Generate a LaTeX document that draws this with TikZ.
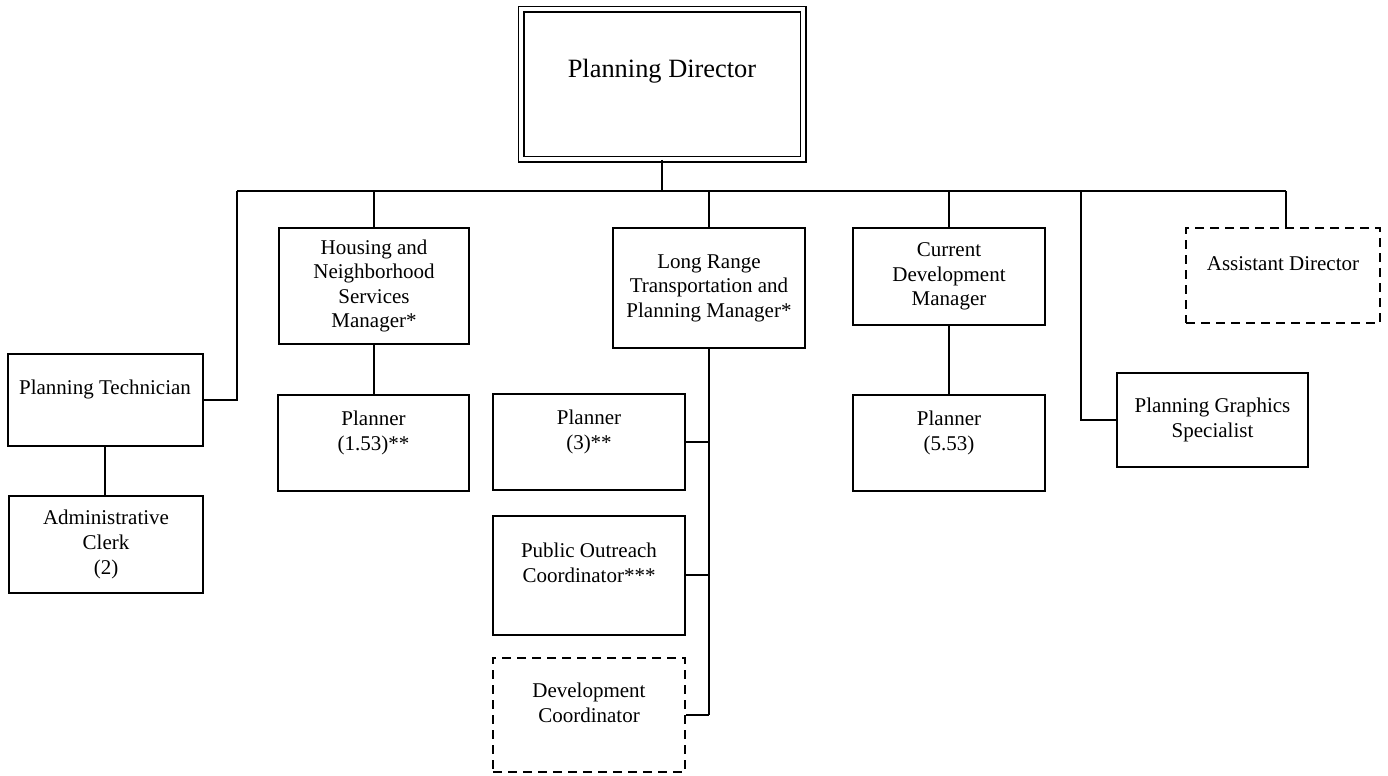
\documentclass[tikz,border=0pt]{standalone}
\usepackage{fontspec}
\setmainfont{Liberation Serif}
\usepackage{tikz}
\usetikzlibrary{calc}

\begin{document}
\begin{tikzpicture}[x=0.5pt,y=-0.5pt,
  box/.style={draw,line width=1pt,align=center,inner sep=0pt,minimum width=96pt,font=\fontsize{10.5}{12.3}\selectfont},
  dashbox/.style={box,dash pattern=on 4.5pt off 3pt},
  link/.style={line width=1pt}]
\useasboundingbox (0,0) rectangle (1388,776);
\node[draw,double,line width=0.85pt,double distance=1.8pt,inner sep=0pt,align=center,minimum width=141pt,minimum height=75pt,font=\fontsize{13.2}{16}\selectfont] (director) at (662,84) {Planning Director\\~};

\node[box,minimum width=97.5pt,minimum height=46pt] (tech) at (105,400) {Planning Technician\\~};
\node[box,minimum width=97pt,minimum height=48.5pt] (clerk) at (106,544.5) {Administrative\\Clerk\\(2)};
\node[box,minimum width=95pt,minimum height=58pt] (housing) at (374,286) {Housing and\\Neighborhood\\Services\\Manager*};
\node[box,minimum width=95.5pt,minimum height=48pt] (hplanner) at (373.5,443) {Planner\\(1.53)**\\~};
\node[box,minimum height=60pt] (longrange) at (709,288) {Long Range\\Transportation and\\Planning Manager*};
\node[box,minimum height=48pt] (lrplanner) at (589,442) {Planner\\(3)**\\~};
\node[box,minimum height=59.5pt] (outreach) at (589,575) {Public Outreach\\Coordinator***\\~};
\node[dashbox,minimum height=57pt] (devcoord) at (589,715) {Development\\Coordinator\\~};
\node[box,minimum height=48.5pt] (curdev) at (949,276.5) {Current\\Development\\Manager};
\node[box,minimum height=48pt] (cdplanner) at (949,443) {Planner\\(5.53)\\~};
\node[box,minimum width=95.5pt,minimum height=47pt] (graphics) at (1212.5,420) {Planning Graphics\\Specialist};
\node[dashbox,minimum width=97pt,minimum height=47.5pt] (assistant) at (1283,275.5) {Assistant Director\\~};

\coordinate (barL) at (237,191);
\coordinate (barR) at (1286,191);
\coordinate (gdrop) at (1081,191);
\coordinate (trunk) at (longrange.south |- devcoord.east);

\draw[link] (barL) -- (barR);
\draw[link] (director.south) -- (director.south |- barL);
\draw[link] (barL) |- (tech.east);
\draw[link] (tech.south) -- (tech.south |- clerk.north);
\draw[link] (housing.north) -- (housing.north |- barL);
\draw[link] (housing.south) -- (housing.south |- hplanner.north);
\draw[link] (longrange.north) -- (longrange.north |- barL);
\draw[link] (longrange.south) -- (trunk);
\draw[link] (lrplanner.east) -- (lrplanner.east -| trunk);
\draw[link] (outreach.east) -- (outreach.east -| trunk);
\draw[link] (devcoord.east) -- (trunk);
\draw[link] (curdev.north) -- (curdev.north |- barL);
\draw[link] (curdev.south) -- (curdev.south |- cdplanner.north);
\draw[link] (gdrop) |- (graphics.west);
\draw[link] (barR) -- (barR |- assistant.north);
\end{tikzpicture}
\end{document}
